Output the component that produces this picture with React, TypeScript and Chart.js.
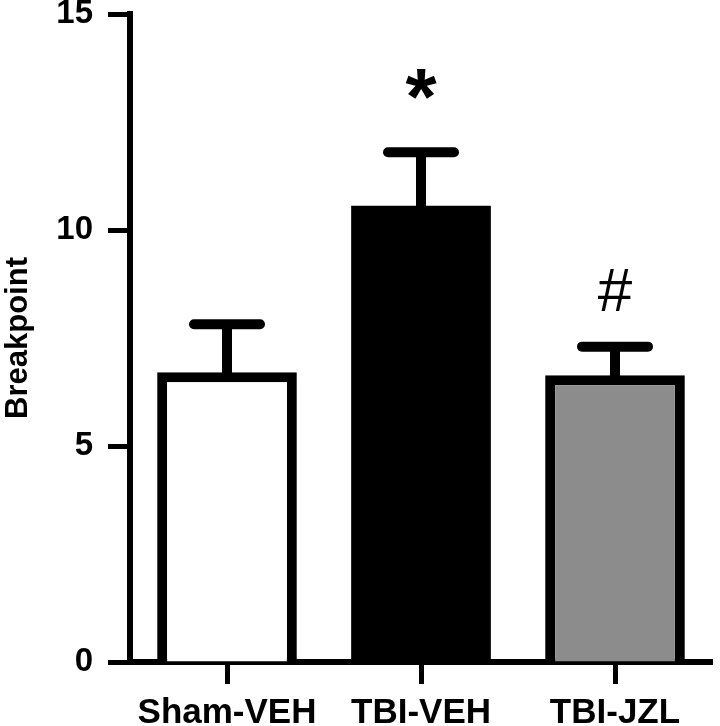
import React, { useEffect, useRef } from "react";
import { Chart, registerables } from "chart.js";

Chart.register(...registerables);

const categories = ["Sham-VEH", "TBI-VEH", "TBI-JZL"];
const means = [6.71, 10.56, 6.64];
const sems = [1.11, 1.24, 0.66];
const fillColors = ["#ffffff", "#000000", "#8c8c8c"];
const borderWidths = [10, 0, 10];
const marks = ["", "*", "#"];
const yTicks = [0, 5, 10, 15];

const FONT = "'Liberation Sans', Arial, sans-serif";

const errorBarPlugin = {
  id: "errorBars",
  afterDatasetsDraw(chart: any) {
    const ctx = chart.ctx;
    const meta = chart.getDatasetMeta(0);
    const yScale = chart.scales.y;
    ctx.save();
    ctx.strokeStyle = "#000";
    ctx.fillStyle = "#000";
    meta.data.forEach((bar: any, i: number) => {
      const x = bar.x;
      const yMean = yScale.getPixelForValue(means[i]);
      const yTop = yScale.getPixelForValue(means[i] + sems[i]);
      ctx.lineWidth = 10;
      ctx.lineCap = "butt";
      ctx.beginPath();
      ctx.moveTo(x, yMean + 2);
      ctx.lineTo(x, yTop);
      ctx.stroke();
      ctx.lineCap = "round";
      ctx.beginPath();
      ctx.moveTo(x - 33, yTop);
      ctx.lineTo(x + 33, yTop);
      ctx.stroke();
      const m = marks[i];
      if (m) {
        ctx.textAlign = "center";
        ctx.textBaseline = "alphabetic";
        if (m === "*") {
          ctx.font = `bold 80px ${FONT}`;
          ctx.fillText(m, x, yTop - 28);
        } else {
          ctx.font = `62px ${FONT}`;
          ctx.fillText(m, x, yTop - 36);
        }
      }
    });
    ctx.restore();
  },
};

export default function App() {
  const ref = useRef<HTMLCanvasElement | null>(null);
  useEffect(() => {
    document.body.style.margin = "0";
    const chart = new Chart(ref.current as HTMLCanvasElement, {
      type: "bar",
      data: {
        labels: categories,
        datasets: [
          {
            data: means,
            backgroundColor: fillColors,
            borderColor: "#000",
            borderWidth: borderWidths,
            barPercentage: 0.72,
            categoryPercentage: 1,
          },
        ],
      },
      options: {
        animation: false,
        responsive: false,
        maintainAspectRatio: false,
        layout: { padding: { top: 14, right: 8, left: 0, bottom: 0 } },
        plugins: { legend: { display: false }, tooltip: { enabled: false } },
        scales: {
          x: {
            afterFit: (s: any) => {
              s.height = 64;
              s.paddingLeft = 0;
              s.paddingRight = 0;
            },
            border: { display: true, color: "#000", width: 6 },
            grid: {
              display: true,
              drawOnChartArea: false,
              drawTicks: true,
              tickLength: 22,
              tickWidth: 5,
              tickColor: "#000",
              offset: false,
            },
            ticks: {
              color: "#000",
              padding: 8,
              font: { family: FONT, size: 35, weight: "bold" },
            },
          },
          y: {
            min: 0,
            max: 15,
            afterFit: (s: any) => {
              s.width = 130;
              s.paddingTop = 0;
              s.paddingBottom = 0;
            },
            afterBuildTicks: (s: any) => {
              s.ticks = yTicks.map((v) => ({ value: v }));
            },
            border: { display: true, color: "#000", width: 6 },
            grid: {
              display: true,
              drawOnChartArea: false,
              drawTicks: true,
              tickLength: 22,
              tickWidth: 5,
              tickColor: "#000",
            },
            ticks: {
              color: "#000",
              padding: 15,
              font: { family: FONT, size: 33, weight: "bold" },
            },
            title: {
              display: true,
              text: "Breakpoint",
              color: "#000",
              padding: { top: 0, bottom: 0 },
              font: { family: FONT, size: 31, weight: "bold" },
            },
          },
        },
      },
      plugins: [errorBarPlugin],
    });
    return () => chart.destroy();
  }, []);
  return (
    <div style={{ position: "absolute", left: 0, top: 0, width: 720, height: 726 }}>
      <canvas ref={ref} width={720} height={726} style={{ width: 720, height: 726 }} />
    </div>
  );
}
